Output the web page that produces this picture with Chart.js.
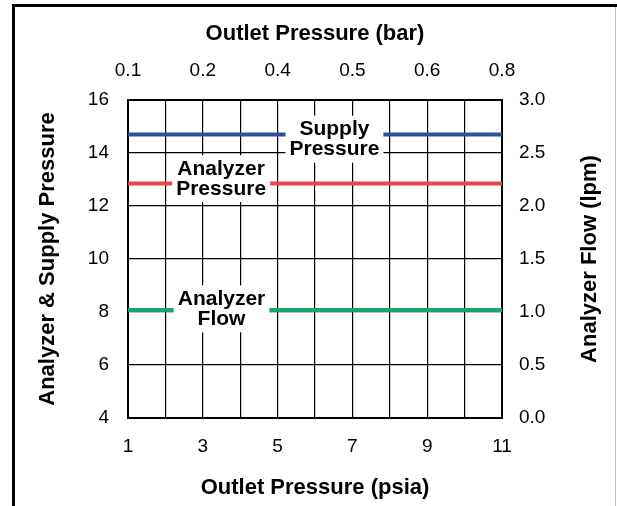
<!DOCTYPE html>
<html>
<head>
<meta charset="utf-8">
<script src="https://cdn.jsdelivr.net/npm/chart.js@4.4.0/dist/chart.umd.min.js"></script>
<style>
  html, body { margin: 0; padding: 0; background: #fff; }
</style>
</head>
<body>
<canvas id="chart" width="617" height="506"></canvas>
<script>
// outlet pressure axis (psia bottom, bar on top)
const psiaLabels = [1, 3, 5, 7, 9, 11];
const barLabels = ['0.1', '0.2', '0.4', '0.5', '0.6', '0.8'];

// flat curves, two end points each
const outletPsia = [1, 11];
const supplyPressure = [14.7, 14.7];
const analyzerPressure = [12.85, 12.85];
const analyzerFlow = [1.02, 1.02];   // lpm, right axis

// in-chart labels
const seriesNames = [['Supply', 'Pressure'], ['Analyzer', 'Pressure'], ['Analyzer', 'Flow']];
const labelPsia = [6.52, 3.49, 3.5];
const labelValue = [14.52, 13.03, 1.03];
const labelAxis = ['y', 'y', 'y1'];

Chart.defaults.font.family = '"Liberation Sans", Arial, Helvetica, sans-serif';
Chart.defaults.color = '#000';

function puntos(ys) {
  return outletPsia.map((x, i) => ({ x, y: ys[i] }));
}

const marco = {
  id: 'marco',
  beforeDraw(chart) {
    const ctx = chart.ctx;
    ctx.save();
    ctx.fillStyle = '#fff';
    ctx.fillRect(0, 0, chart.width, chart.height);
    ctx.strokeStyle = '#000';
    ctx.lineWidth = 3;
    ctx.beginPath();
    ctx.moveTo(13.5, chart.height);
    ctx.lineTo(13.5, 5.5);
    ctx.lineTo(chart.width, 5.5);
    ctx.stroke();
    ctx.strokeStyle = '#bbb';
    ctx.lineWidth = 1;
    ctx.beginPath();
    ctx.moveTo(615.5, 7);
    ctx.lineTo(615.5, chart.height);
    ctx.stroke();
    ctx.restore();
  }
};

const etiquetas = {
  id: 'etiquetas',
  afterDatasetsDraw(chart) {
    const ctx = chart.ctx;
    ctx.save();
    ctx.font = 'bold 21px "Liberation Sans", Arial, sans-serif';
    ctx.textAlign = 'center';
    ctx.textBaseline = 'middle';
    seriesNames.forEach((lines, i) => {
      const px = chart.scales.x.getPixelForValue(labelPsia[i]);
      const py = chart.scales[labelAxis[i]].getPixelForValue(labelValue[i]);
      const w = Math.max(...lines.map(t => ctx.measureText(t).width)) + 8;
      const h = 47;
      ctx.fillStyle = '#fff';
      ctx.fillRect(px - w / 2, py - h / 2, w, h);
      ctx.fillStyle = '#000';
      ctx.fillText(lines[0], px, py - 10);
      ctx.fillText(lines[1], px, py + 10);
    });
    ctx.restore();
  },
  afterDraw(chart) {
    // right title reads bottom-to-top like the left one
    const ctx = chart.ctx;
    const area = chart.chartArea;
    ctx.save();
    ctx.translate(590, (area.top + area.bottom) / 2);
    ctx.rotate(-Math.PI / 2);
    ctx.font = 'bold 22px "Liberation Sans", Arial, sans-serif';
    ctx.textAlign = 'center';
    ctx.textBaseline = 'middle';
    ctx.fillStyle = '#000';
    ctx.fillText('Analyzer Flow (lpm)', 0, 0);
    ctx.restore();
  }
};

const gridNegra = { color: '#000', lineWidth: 1.2, drawTicks: false };
const bordeNegro = { color: '#000', width: 2 };

new Chart(document.getElementById('chart'), {
  type: 'line',
  data: {
    datasets: [
      { label: 'Supply Pressure', data: puntos(supplyPressure), yAxisID: 'y', borderColor: '#2c4e9c', borderWidth: 4, pointRadius: 0 },
      { label: 'Analyzer Pressure', data: puntos(analyzerPressure), yAxisID: 'y', borderColor: '#e4484c', borderWidth: 4, pointRadius: 0 },
      { label: 'Analyzer Flow', data: puntos(analyzerFlow), yAxisID: 'y1', borderColor: '#14a86c', borderWidth: 4, pointRadius: 0 }
    ]
  },
  options: {
    responsive: false,
    animation: false,
    layout: { padding: 0 },
    plugins: { legend: { display: false }, tooltip: { enabled: false } },
    scales: {
      x: {
        type: 'linear', position: 'bottom', min: 1, max: 11,
        afterFit: (s) => { s.height = 88; },
        grid: gridNegra,
        border: bordeNegro,
        ticks: {
          stepSize: 1, autoSkip: false, maxRotation: 0, padding: 17,
          font: { size: 19 },
          callback: (v) => psiaLabels.includes(v) ? String(v) : ''
        },
        title: { display: true, text: 'Outlet Pressure (psia)', font: { size: 22, weight: 'bold' }, padding: { top: 0, bottom: 5 } }
      },
      x2: {
        type: 'linear', position: 'top', min: 1, max: 11,
        afterFit: (s) => { s.height = 100; },
        grid: { display: false, drawTicks: false },
        border: bordeNegro,
        ticks: {
          stepSize: 2, autoSkip: false, maxRotation: 0, padding: 18,
          font: { size: 19 },
          callback: (v, i) => barLabels[i]
        },
        title: { display: true, text: 'Outlet Pressure (bar)', font: { size: 22, weight: 'bold' }, padding: { top: 21, bottom: 0 } }
      },
      y: {
        position: 'left', min: 4, max: 16,
        afterFit: (s) => { s.width = 128; },
        grid: gridNegra,
        border: bordeNegro,
        ticks: { stepSize: 2, padding: 19, font: { size: 19 } },
        title: { display: true, text: 'Analyzer & Supply Pressure', font: { size: 22, weight: 'bold' }, padding: { top: 35, bottom: 0 } }
      },
      y1: {
        position: 'right', min: 0, max: 3,
        afterFit: (s) => { s.width = 115; },
        grid: { display: false, drawTicks: false },
        border: bordeNegro,
        ticks: { stepSize: 0.5, padding: 17, font: { size: 19 }, callback: (v) => v.toFixed(1) }
      }
    }
  },
  plugins: [marco, etiquetas]
});
</script>
</body>
</html>
